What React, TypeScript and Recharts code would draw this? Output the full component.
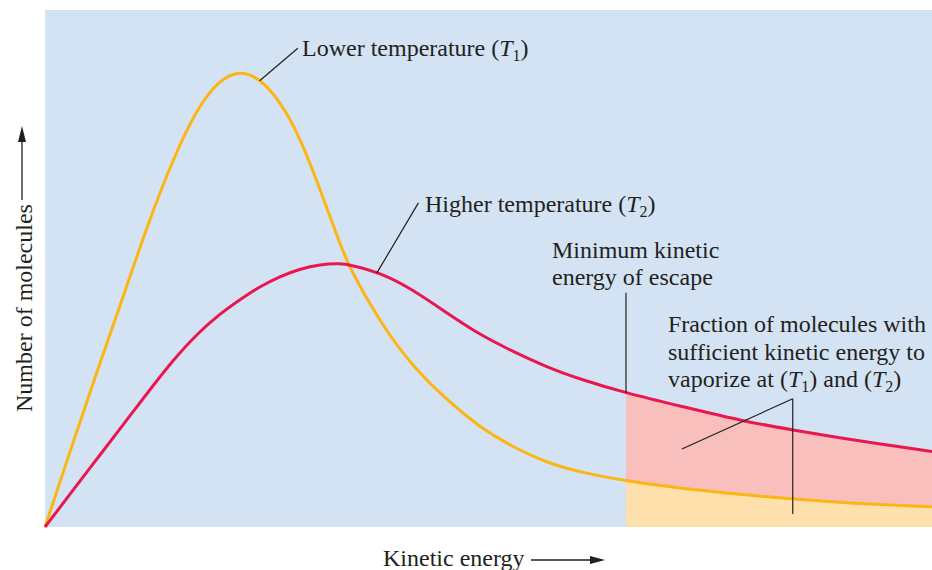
import React from "react";
import {
  ComposedChart,
  Line,
  Area,
  XAxis,
  YAxis,
  CartesianGrid,
  ReferenceLine,
} from "recharts";

// Kinetic energy (arbitrary units, 0-100)
const energy = [
  0, 2.8, 5.6, 8.1, 11.8, 14.4, 17.1, 19.7, 22.0, 24.2, 26.5, 28.7, 31.0, 33.3,
  34.4, 37.8, 41.5, 45.3, 49.0, 52.7, 56.6, 60.3, 65.5, 71.6, 79.1, 84.3, 90.8, 100,
];
// Number of molecules at lower temperature T1
const lowerT1 = [
  0, 14.5, 28.8, 41.0, 59.6, 71.0, 80.9, 86.6, 88.3, 86.8, 82.4, 75.6, 65.4, 54.5,
  49.9, 39.5, 30.9, 24.6, 19.3, 15.5, 12.4, 10.6, 8.9, 7.5, 6.2, 5.4, 4.6, 3.9,
];
// Number of molecules at higher temperature T2
const higherT2 = [
  0, 6.3, 12.6, 18.2, 26.5, 32.2, 37.3, 41.2, 44.0, 46.5, 48.5, 49.9, 50.8, 51.0,
  50.7, 49.2, 45.9, 41.4, 37.2, 34.0, 30.9, 28.6, 25.9, 23.4, 20.3, 18.8, 16.9, 14.6,
];
// Minimum kinetic energy of escape
const escapeEnergy = 65.5;

const data = energy.map((e, i) => ({
  e,
  t1: lowerT1[i],
  t2: higherT2[i],
  shadeT1: e >= escapeEnergy ? lowerT1[i] : null,
  shadeT2: e >= escapeEnergy ? higherT2[i] : null,
}));

const FONT = "'Liberation Serif', 'DejaVu Serif', serif";
const INK = "#231f20";
const ORANGE = "#fdb515";
const CRIMSON = "#e8174f";
const SUB = 16;

export default function App() {
  return (
    <div style={{ position: "absolute", left: 0, top: 0, width: 932, height: 570, background: "#fff" }}>
      <ComposedChart
        width={932}
        height={570}
        data={data}
        margin={{ top: 10, right: 0, bottom: 43, left: 45 }}
      >
        <CartesianGrid horizontal={false} vertical={false} fill="#d4e3f4" stroke="none" />
        <XAxis dataKey="e" type="number" domain={[0, 100]} hide />
        <YAxis type="number" domain={[0, 100]} hide />
        <Area
          dataKey="shadeT2"
          type="basis"
          fill="#f8bfbd"
          fillOpacity={1}
          stroke="none"
          isAnimationActive={false}
          connectNulls={false}
        />
        <Area
          dataKey="shadeT1"
          type="basis"
          fill="#fde0ab"
          fillOpacity={1}
          stroke="none"
          isAnimationActive={false}
          connectNulls={false}
        />
        <Line dataKey="t1" type="basis" stroke={ORANGE} strokeWidth={3} dot={false} isAnimationActive={false} />
        <Line dataKey="t2" type="basis" stroke={CRIMSON} strokeWidth={3} dot={false} isAnimationActive={false} />
        <ReferenceLine segment={[{ x: 28.5, y: 92.6 }, { x: 24.2, y: 86.3 }]} stroke={INK} strokeWidth={1.2} />
        <ReferenceLine segment={[{ x: 42.1, y: 62.7 }, { x: 37.4, y: 49.1 }]} stroke={INK} strokeWidth={1.2} />
        <ReferenceLine segment={[{ x: escapeEnergy, y: 45.3 }, { x: escapeEnergy, y: 25.9 }]} stroke={INK} strokeWidth={1.2} />
        <ReferenceLine segment={[{ x: 71.8, y: 15.1 }, { x: 84.3, y: 24.8 }]} stroke={INK} strokeWidth={1.2} />
        <ReferenceLine segment={[{ x: 84.3, y: 24.8 }, { x: 84.3, y: 2.5 }]} stroke={INK} strokeWidth={1.2} />
      </ComposedChart>
      <svg
        width={932}
        height={570}
        style={{ position: "absolute", left: 0, top: 0, pointerEvents: "none" }}
        fontFamily={FONT}
        fill={INK}
        fontSize={24}
      >
        <text x={302} y={56}>
          Lower temperature (<tspan fontStyle="italic">T</tspan>
          <tspan fontSize={SUB} dy={5}>1</tspan>
          <tspan dy={-5}>)</tspan>
        </text>
        <text x={425} y={212}>
          Higher temperature (<tspan fontStyle="italic">T</tspan>
          <tspan fontSize={SUB} dy={5}>2</tspan>
          <tspan dy={-5}>)</tspan>
        </text>
        <text x={552} y={258}>Minimum kinetic</text>
        <text x={552} y={285}>energy of escape</text>
        <text x={668} y={332}>Fraction of molecules with</text>
        <text x={668} y={360}>sufficient kinetic energy to</text>
        <text x={668} y={387}>
          vaporize at  (<tspan fontStyle="italic">T</tspan>
          <tspan fontSize={SUB} dy={5}>1</tspan>
          <tspan dy={-5}>) and  (</tspan>
          <tspan fontStyle="italic">T</tspan>
          <tspan fontSize={SUB} dy={5}>2</tspan>
          <tspan dy={-5}>)</tspan>
        </text>
        <text x={383} y={566}>Kinetic energy</text>
        <line x1={531} y1={560} x2={592} y2={560} stroke={INK} strokeWidth={1.3} />
        <polygon points="605,560 590,556 590,564" fill={INK} />
        <text x={32} y={412} transform="rotate(-90 32 412)">Number of molecules</text>
        <line x1={22} y1={200} x2={22} y2={138} stroke={INK} strokeWidth={1.3} />
        <polygon points="22,126 18,142 26,142" fill={INK} />
      </svg>
    </div>
  );
}
